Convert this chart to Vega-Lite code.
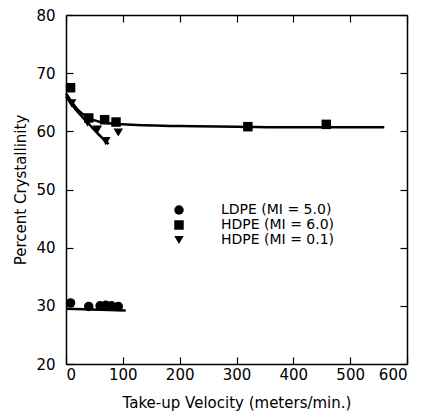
{
  "$schema": "https://vega.github.io/schema/vega-lite/v6.json",
  "width": 341,
  "height": 349,
  "autosize": "none",
  "padding": {"left": 66, "top": 15, "right": 21, "bottom": 50},
  "background": "white",
  "config": {
    "font": "DejaVu Sans",
    "view": {"stroke": null},
    "axis": {"domainColor": "black", "domainWidth": 1.5, "tickColor": "black", "tickWidth": 1.2, "tickSize": -7, "labelFontSize": 15, "labelColor": "black", "titleFontSize": 15, "titleFontWeight": "normal", "titleColor": "black", "grid": false, "labelPadding": 11}
  },
  "datasets": {
    "pts": [
      {"series": "LDPE (MI = 5.0)", "v": 8, "c": 30.5},
      {"series": "LDPE (MI = 5.0)", "v": 40, "c": 29.9},
      {"series": "LDPE (MI = 5.0)", "v": 60, "c": 30.0},
      {"series": "LDPE (MI = 5.0)", "v": 70, "c": 30.1},
      {"series": "LDPE (MI = 5.0)", "v": 80, "c": 30.0},
      {"series": "LDPE (MI = 5.0)", "v": 92, "c": 29.9},
      {"series": "HDPE (MI = 6.0)", "v": 8, "c": 67.5},
      {"series": "HDPE (MI = 6.0)", "v": 40, "c": 62.3},
      {"series": "HDPE (MI = 6.0)", "v": 68, "c": 62.0},
      {"series": "HDPE (MI = 6.0)", "v": 88, "c": 61.6},
      {"series": "HDPE (MI = 6.0)", "v": 320, "c": 60.8},
      {"series": "HDPE (MI = 6.0)", "v": 458, "c": 61.2},
      {"series": "HDPE (MI = 0.1)", "v": 10, "c": 64.8},
      {"series": "HDPE (MI = 0.1)", "v": 38, "c": 61.5},
      {"series": "HDPE (MI = 0.1)", "v": 55, "c": 60.3},
      {"series": "HDPE (MI = 0.1)", "v": 70, "c": 58.3},
      {"series": "HDPE (MI = 0.1)", "v": 92, "c": 59.8}
    ],
    "fit": [
      {"series": "LDPE (MI = 5.0)", "v": 0, "c": 29.5},
      {"series": "LDPE (MI = 5.0)", "v": 105, "c": 29.2},
      {"series": "HDPE (MI = 6.0)", "v": 0, "c": 66.5},
      {"series": "HDPE (MI = 6.0)", "v": 20, "c": 63.8},
      {"series": "HDPE (MI = 6.0)", "v": 40, "c": 62.3},
      {"series": "HDPE (MI = 6.0)", "v": 60, "c": 61.6},
      {"series": "HDPE (MI = 6.0)", "v": 100, "c": 61.2},
      {"series": "HDPE (MI = 6.0)", "v": 200, "c": 60.9},
      {"series": "HDPE (MI = 6.0)", "v": 300, "c": 60.8},
      {"series": "HDPE (MI = 6.0)", "v": 400, "c": 60.7},
      {"series": "HDPE (MI = 6.0)", "v": 560, "c": 60.7},
      {"series": "HDPE (MI = 0.1)", "v": 0, "c": 66.0},
      {"series": "HDPE (MI = 0.1)", "v": 20, "c": 63.4},
      {"series": "HDPE (MI = 0.1)", "v": 40, "c": 61.3},
      {"series": "HDPE (MI = 0.1)", "v": 60, "c": 59.2},
      {"series": "HDPE (MI = 0.1)", "v": 75, "c": 57.8}
    ]
  },
  "resolve": {"axis": {"x": "independent", "y": "independent"}},
  "layer": [
    {
      "data": {"name": "fit"},
      "mark": {"type": "line", "color": "black", "strokeWidth": 2.5, "interpolate": "monotone"},
      "encoding": {
        "x": {"field": "v", "type": "quantitative", "scale": {"domain": [0, 600]}, "axis": {"orient": "top", "labels": false, "title": null, "tickCount": 6, "domainWidth": 1.5}},
        "y": {"field": "c", "type": "quantitative", "scale": {"domain": [20, 80]}, "axis": {"orient": "right", "labels": false, "title": null, "tickCount": 6}},
        "detail": {"field": "series"}
      }
    },
    {
      "data": {"name": "pts"},
      "mark": {"type": "point", "filled": true, "color": "black", "opacity": 1, "size": 90},
      "encoding": {
        "x": {"field": "v", "type": "quantitative", "scale": {"domain": [0, 600]}, "axis": {"orient": "bottom", "title": "Take-up Velocity (meters/min.)", "tickCount": 6, "labelPadding": 10, "titlePadding": 13}},
        "y": {"field": "c", "type": "quantitative", "scale": {"domain": [20, 80]}, "axis": {"orient": "left", "title": "Percent Crystallinity", "tickCount": 6, "labelPadding": 18, "titlePadding": 7}},
        "shape": {
          "field": "series", "type": "nominal",
          "scale": {"domain": ["LDPE (MI = 5.0)", "HDPE (MI = 6.0)", "HDPE (MI = 0.1)"], "range": ["circle", "square", "triangle-down"]},
          "legend": {"title": null, "orient": "none", "legendX": 106, "legendY": 188, "labelFontSize": 14, "labelColor": "black", "symbolFillColor": "black", "symbolStrokeColor": "black", "symbolSize": 90, "labelOffset": 35, "rowPadding": -1, "symbolOpacity": 1}
        }
      }
    }
  ]
}
